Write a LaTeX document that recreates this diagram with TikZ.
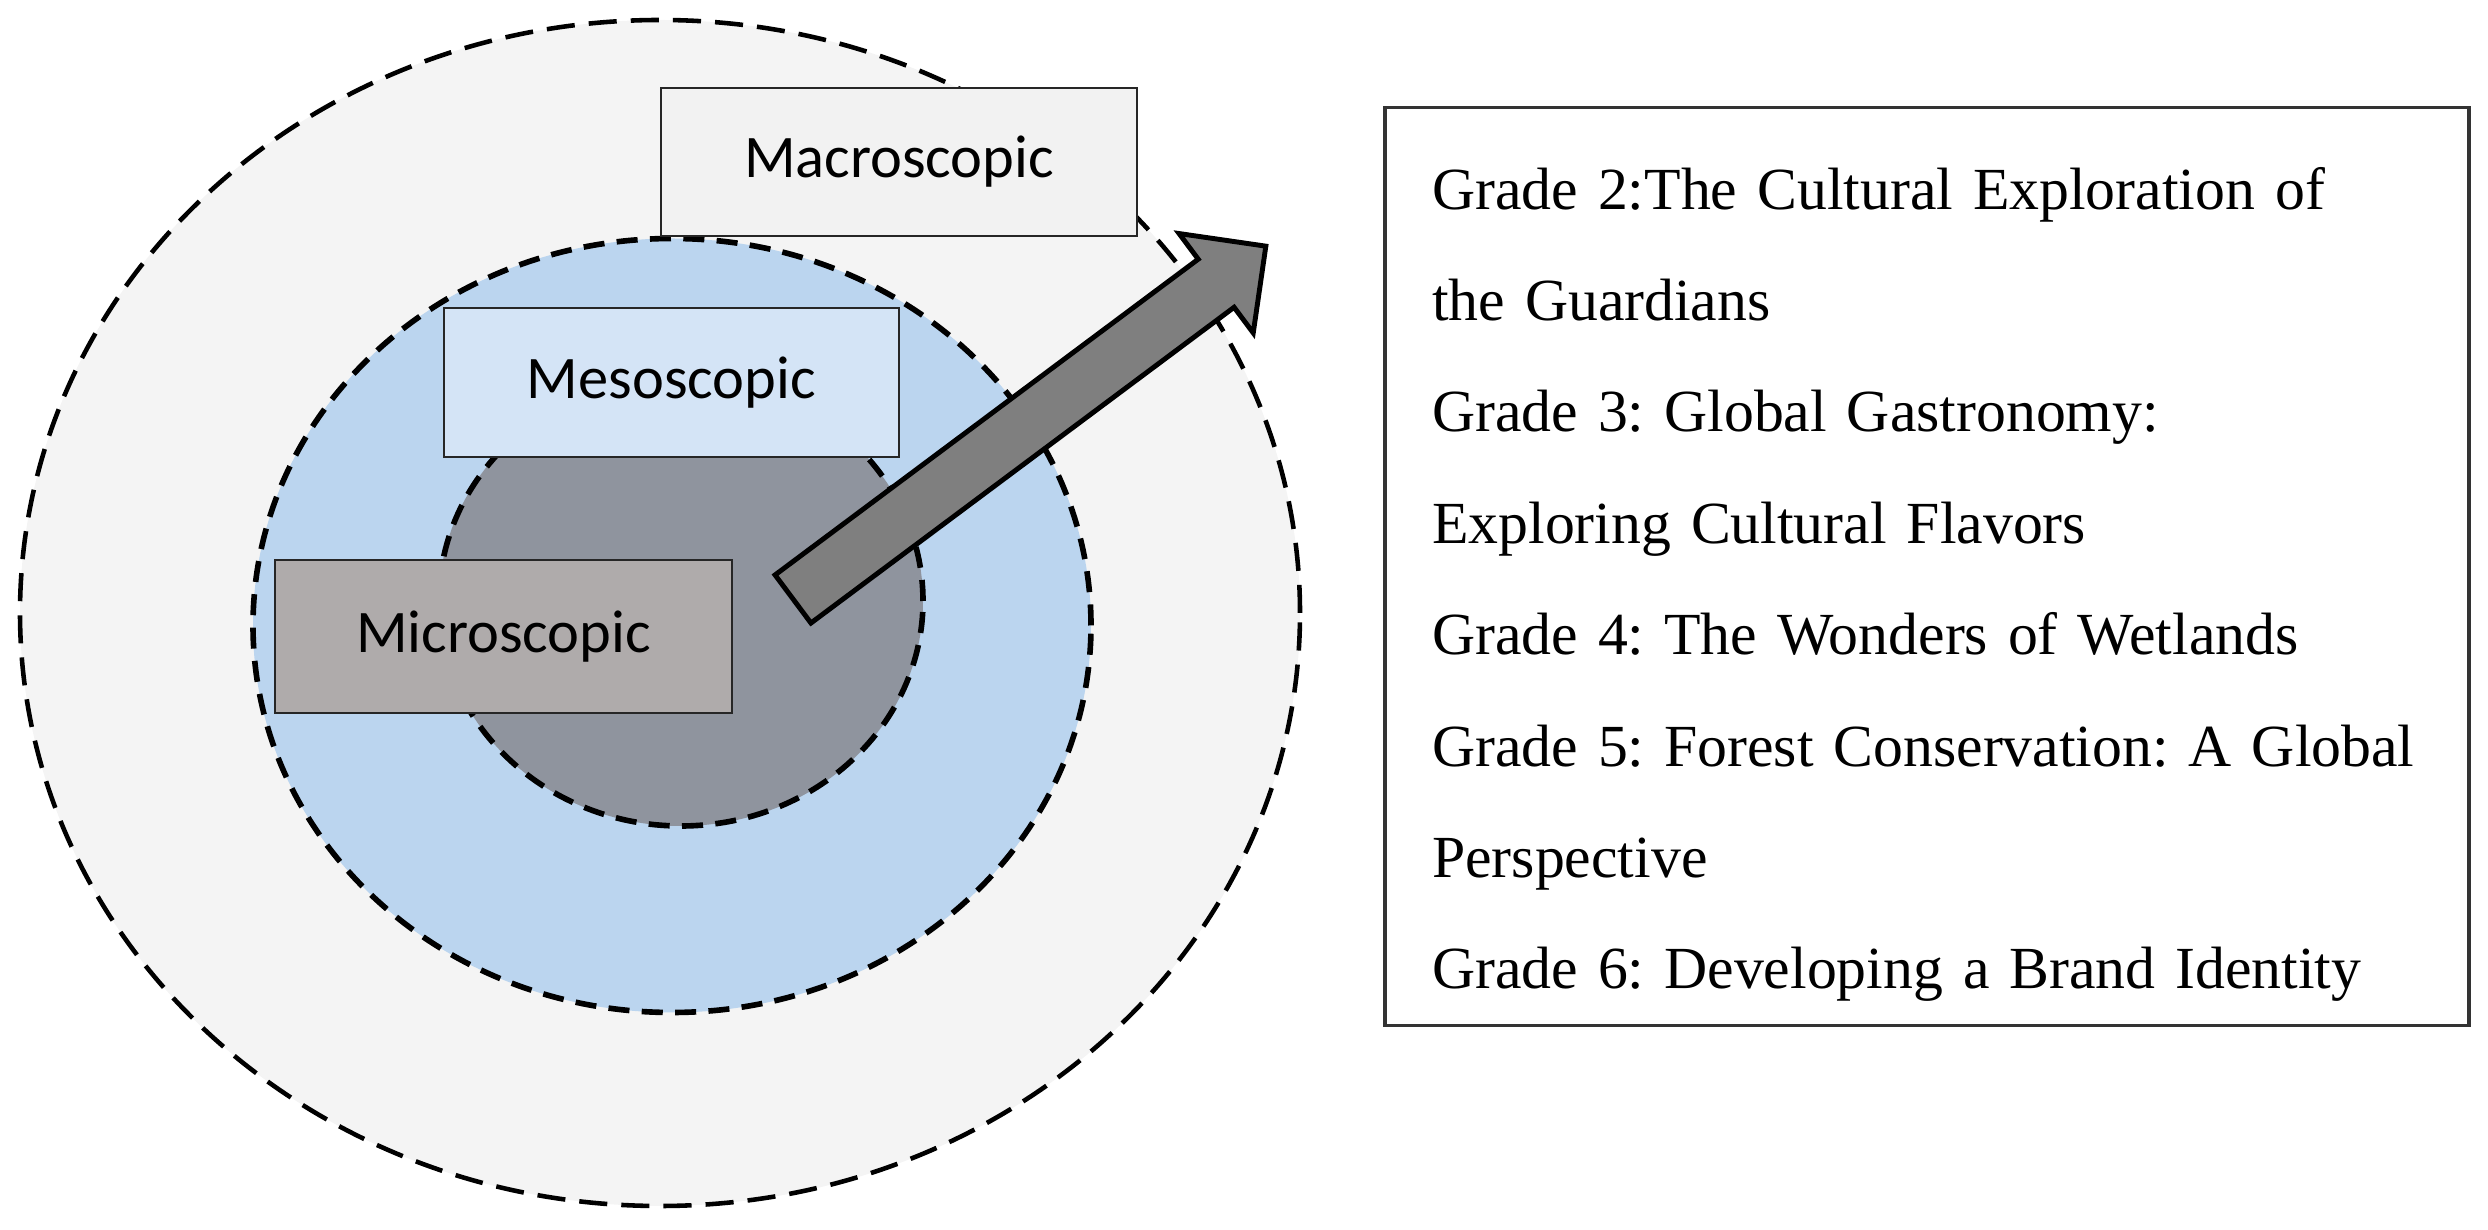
\documentclass[tikz,border=0pt]{standalone}
\usepackage{fontspec}
\newfontfamily\labelfont{Carlito}
\newfontfamily\gradefont{Liberation Serif}
\definecolor{outerfill}{HTML}{F4F4F4}
\definecolor{middlefill}{HTML}{BBD5EF}
\definecolor{innerfill}{HTML}{8F949E}
\definecolor{macrofill}{HTML}{F2F2F2}
\definecolor{mesofill}{HTML}{D4E4F6}
\definecolor{microfill}{HTML}{AFABAB}
\definecolor{arrowfill}{HTML}{7F7F7F}
\frenchspacing

\begin{document}
\begin{tikzpicture}[ring/.style={draw=black, line width=1.6pt, dash pattern=on 6pt off 3.5pt},
  levelbox/.style={rectangle, draw=black!85, line width=0.6pt, minimum height=1.5cm,
    font=\labelfont\fontsize{17.2}{20}\selectfont},
  listbox/.style={rectangle, draw=black!80, line width=0.9pt, align=left,
    text width=281.6pt, inner xsep=13.4pt, inner ysep=0pt,
    font=\gradefont\fontsize{17}{31.7}\selectfont}]
\useasboundingbox (0,0) rectangle (24.88,12.30);
% the three levels
\draw[ring, fill=outerfill, line width=1.3pt, dash pattern=on 8pt off 4pt] (6.60,6.17) ellipse [x radius=6.40, y radius=5.93];
\draw[ring, fill=middlefill] (6.72,6.045) ellipse [x radius=4.19, y radius=3.87];
\draw[ring, fill=innerfill] (6.81,6.29) ellipse [x radius=2.42, y radius=2.25];
% labels
\node [levelbox, fill=macrofill, minimum width=4.76cm, minimum height=1.48cm] (macro) at (8.99,10.68) {Macroscopic};
\node [levelbox, fill=mesofill, minimum width=4.55cm, minimum height=1.49cm] (meso) at (6.715,8.475) {Mesoscopic};
\node [levelbox, fill=microfill, minimum width=4.57cm, minimum height=1.53cm] (micro) at (5.035,5.935) {Microscopic};
% arrow
\coordinate (tail) at (7.93,6.31);
\begin{scope}[shift={(tail)}, rotate=36.73]
\draw[fill=arrowfill, line width=1.4pt, line join=miter] (0,-0.30) -- (5.28,-0.30) -- (5.28,-0.62) -- (5.90,0)
  -- (5.28,0.62) -- (5.28,0.30) -- (0,0.30) -- cycle;
\end{scope}
% grades
\node [listbox] (grades) at (19.27,6.635) {\rule{0pt}{29pt}Grade 2:The Cultural Exploration of\\
  the Guardians\\
  Grade 3: Global Gastronomy:\\
  Exploring Cultural Flavors\\
  Grade 4: The Wonders of Wetlands\\
  \mbox{Grade 5: Forest Conservation: A Global}\\
  Perspective\\
  Grade 6: Developing a Brand Identity\rule[-10.5pt]{0pt}{10.5pt}};
\end{tikzpicture}
\end{document}
